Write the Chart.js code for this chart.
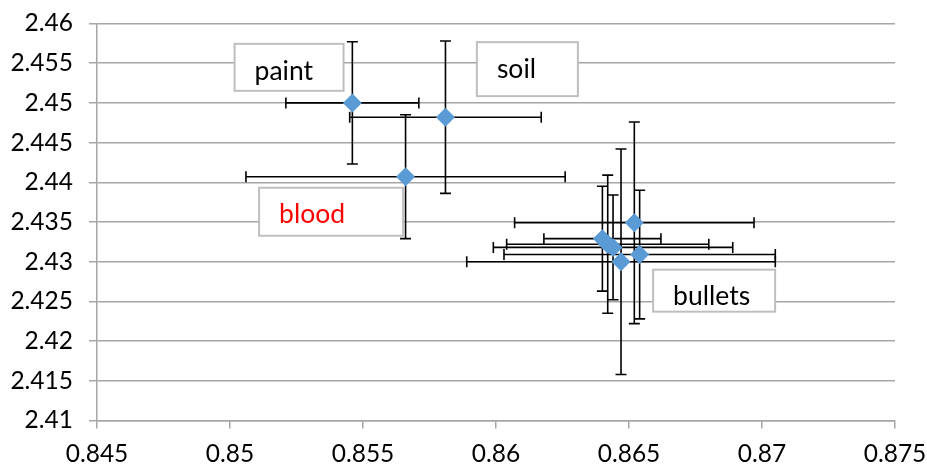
<!DOCTYPE html>
<html>
<head>
<meta charset="utf-8">
<script src="https://cdn.jsdelivr.net/npm/chart.js@4"></script>
<style>
  body { margin: 0; background: #fff; }
  #wrap { width: 927px; height: 466px; }
</style>
</head>
<body>
<div id="wrap"><canvas id="myChart" width="927" height="466"></canvas></div>
<script>
// one point per sample: paint, soil, blood, then six bullets
const xValues = [0.8546, 0.8581, 0.8566, 0.8652, 0.8640, 0.8642, 0.8644, 0.8654, 0.8647];
const yValues = [2.4500, 2.4482, 2.4407, 2.4349, 2.4329, 2.4322, 2.4318, 2.4309, 2.4300];
const xErrors = [0.0025, 0.0036, 0.0060, 0.0045, 0.0022, 0.0038, 0.0045, 0.0051, 0.0058];
const yErrors = [0.0077, 0.0096, 0.0078, 0.0127, 0.0066, 0.0087, 0.0066, 0.0081, 0.0142];

// text boxes, centred at a data position
const labelText = ["paint", "soil", "blood", "bullets"];
const labelX = [0.85222, 0.86118, 0.8538, 0.8682];
const labelY = [2.45448, 2.45425, 2.43629, 2.42635];
const labelColor = ["#000", "#000", "#ff0000", "#000"];
const boxW = [109, 101, 144, 122];
const boxH = [47, 54, 48, 42];
const textDy = [4, 0, 3, 6];

const FONT = "Lato, Carlito, 'Liberation Sans', sans-serif";

const errorBars = {
  id: "errorBars",
  beforeDatasetsDraw(chart) {
    const { ctx, scales: { x, y } } = chart;
    const cap = 5.5;
    ctx.save();
    ctx.strokeStyle = "#000";
    ctx.lineWidth = 1.6;
    xValues.forEach((xv, i) => {
      const px = x.getPixelForValue(xv);
      const py = y.getPixelForValue(yValues[i]);
      const x0 = x.getPixelForValue(xv - xErrors[i]);
      const x1 = x.getPixelForValue(xv + xErrors[i]);
      const y0 = y.getPixelForValue(yValues[i] + yErrors[i]);
      const y1 = y.getPixelForValue(yValues[i] - yErrors[i]);
      ctx.beginPath();
      ctx.moveTo(x0, py); ctx.lineTo(x1, py);
      ctx.moveTo(x0, py - cap); ctx.lineTo(x0, py + cap);
      ctx.moveTo(x1, py - cap); ctx.lineTo(x1, py + cap);
      ctx.moveTo(px, y0); ctx.lineTo(px, y1);
      ctx.moveTo(px - cap, y0); ctx.lineTo(px + cap, y0);
      ctx.moveTo(px - cap, y1); ctx.lineTo(px + cap, y1);
      ctx.stroke();
    });
    ctx.restore();
  }
};

const textBoxes = {
  id: "textBoxes",
  afterDatasetsDraw(chart) {
    const { ctx, scales: { x, y } } = chart;
    ctx.save();
    labelText.forEach((t, i) => {
      const cx = x.getPixelForValue(labelX[i]);
      const cy = y.getPixelForValue(labelY[i]);
      const left = cx - boxW[i] / 2, top = cy - boxH[i] / 2;
      ctx.fillStyle = "#fff";
      ctx.fillRect(left, top, boxW[i], boxH[i]);
      ctx.strokeStyle = "#bfbfbf";
      ctx.lineWidth = 2;
      ctx.strokeRect(left, top, boxW[i], boxH[i]);
      ctx.fillStyle = labelColor[i];
      ctx.font = "26.5px " + FONT;
      ctx.textAlign = "left";
      ctx.textBaseline = "middle";
      ctx.fillText(t, left + 20, cy + textDy[i]);
    });
    ctx.restore();
  }
};

const points = xValues.map((v, i) => ({ x: v, y: yValues[i] }));

new Chart(document.getElementById("myChart"), {
  type: "scatter",
  data: {
    datasets: [{
      data: points,
      pointStyle: "rectRot",
      pointRadius: 9.5,
      pointHoverRadius: 9.5,
      borderWidth: 0,
      backgroundColor: "#5b9bd5",
      borderColor: "#5b9bd5"
    }]
  },
  options: {
    responsive: false,
    animation: false,
    events: [],
    layout: { padding: { top: 23.5, right: 32, left: 0, bottom: 0 } },
    plugins: { legend: { display: false }, tooltip: { enabled: false } },
    scales: {
      x: {
        type: "linear",
        min: 0.845,
        max: 0.875,
        afterFit: (s) => { s.height = 45.5; s.paddingLeft = 0; s.paddingRight = 0; },
        ticks: {
          stepSize: 0.005,
          color: "#000",
          padding: 11,
          font: { family: FONT, size: 24.5 },
          callback: (v) => +v.toFixed(3)
        },
        grid: { drawOnChartArea: false, drawTicks: true, tickLength: 8, tickColor: "#a6a6a6", lineWidth: 1.5 },
        border: { color: "#a6a6a6", width: 1.5 }
      },
      y: {
        type: "linear",
        min: 2.41,
        max: 2.46,
        afterFit: (s) => { s.width = 97; s.paddingTop = 0; s.paddingBottom = 0; },
        ticks: {
          stepSize: 0.005,
          color: "#000",
          padding: 16,
          font: { family: FONT, size: 24.5 },
          callback: (v) => +v.toFixed(3)
        },
        grid: { color: "#a6a6a6", lineWidth: 1.5, tickLength: 8, tickColor: "#a6a6a6" },
        border: { color: "#a6a6a6", width: 1.5 }
      }
    }
  },
  plugins: [errorBars, textBoxes]
});
</script>
</body>
</html>
